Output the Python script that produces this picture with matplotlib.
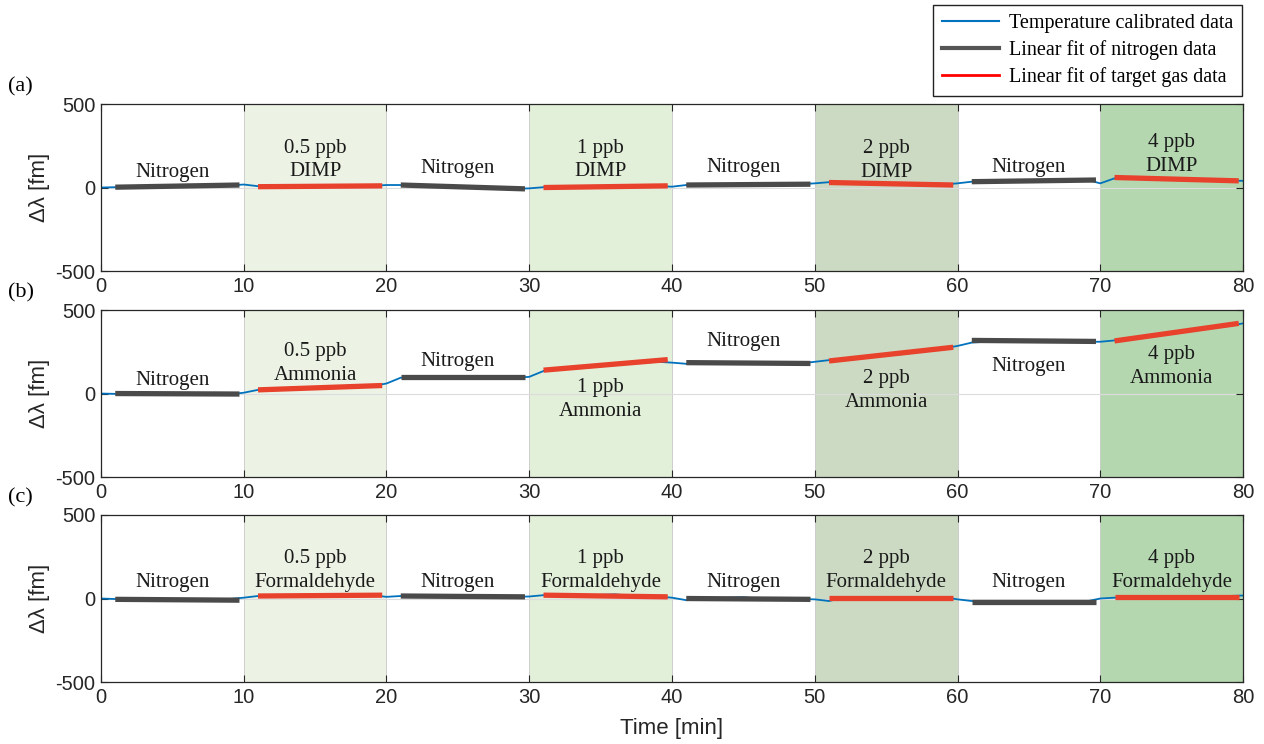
import matplotlib
matplotlib.use('Agg')
import matplotlib.pyplot as plt
import numpy as np

# Data
time_min = list(range(0, 81))

blue_a = [0, 2, 3, 5, 4, 7, 6, 10, 9, 12, 18, 8, 6, 7, 5, 8, 7, 9, 8, 10,
          15, 15, 10, 8, 5, 4, 0, -3, -5, -8, -5, 2, 0, 3, 4, 5, 6, 7, 8, 9,
          5, 15, 16, 15, 17, 18, 18, 20, 19, 20, 25, 32, 30, 28, 27, 25, 23, 22, 20, 18,
          25, 35, 36, 37, 38, 40, 41, 42, 44, 48, 25, 55, 58, 56, 52, 50, 48, 46, 44, 42, 40]
blue_b = [0, -2, 0, -3, 2, -5, 0, -3, -6, -5, 5, 22, 25, 28, 30, 33, 36, 38, 42, 45,
          60, 95, 92, 100, 95, 96, 93, 97, 95, 94, 100, 135, 145, 150, 155, 165, 170, 178, 185, 190,
          185, 178, 190, 183, 180, 178, 176, 180, 178, 180, 190, 200, 205, 212, 220, 228, 235, 245, 255, 270,
          285, 305, 310, 315, 322, 315, 312, 310, 312, 310, 310, 318, 330, 345, 350, 360, 372, 385, 395, 405, 420]
blue_c = [0, -3, -5, -6, -5, -7, -6, -8, -5, -3, 5, 15, 18, 20, 22, 20, 18, 20, 22, 20,
          10, 15, 12, 10, 12, 10, 8, 9, 8, 10, 12, 20, 22, 18, 20, 22, 25, 18, 15, 12,
          5, -10, -5, 0, 5, 8, 0, -3, -5, -3, -5, -15, 5, 8, 5, 6, 5, 8, 5, 8,
          -5, -15, -18, -20, -17, -18, -20, -18, -20, -18, 0, 5, 8, 10, 12, 10, 12, 10, 12, 15, 18]

# linear fits: (t_start, t_end, y_start, y_end)
n2_fit_a = [(1, 9.7, 2, 15), (21, 29.7, 15, -8), (41, 49.7, 15, 20), (61, 69.7, 35, 45)]
gas_fit_a = [(11, 19.7, 5, 10), (31, 39.7, 0, 10), (51, 59.7, 30, 15), (71, 79.7, 60, 40)]
n2_fit_b = [(1, 9.7, 0, -3), (21, 29.7, 97, 97), (41, 49.7, 185, 180), (61, 69.7, 318, 312)]
gas_fit_b = [(11, 19.7, 22, 48), (31, 39.7, 140, 203), (51, 59.7, 195, 277), (71, 79.7, 315, 420)]
n2_fit_c = [(1, 9.7, -5, -10), (21, 29.7, 15, 10), (41, 49.7, 0, -5), (61, 69.7, -20, -20)]
gas_fit_c = [(11, 19.7, 15, 20), (31, 39.7, 20, 10), (51, 59.7, 5, 5), (71, 79.7, 10, 10)]

concentrations = ['0.5 ppb', '1 ppb', '2 ppb', '4 ppb']
gases = ['DIMP', 'Ammonia', 'Formaldehyde']

# label heights per panel: nitrogen labels (4), gas labels (4)
n2_label_y = [[87, 111, 117, 117], [78, 194, 311, 163], [93, 93, 93, 93]]
gas_label_y = [[165, 165, 160, 200], [180, -36, 20, 160], [170, 170, 170, 170]]

shade_colors = ['#ecf3e5', '#e2efd9', '#ccd9c3', '#b5d7b0']

# Plotting
serif = 'Liberation Serif'
plt.rcParams['font.family'] = 'Liberation Sans'
plt.rcParams['axes.unicode_minus'] = False
fig = plt.figure(figsize=(12.64, 7.44), dpi=100)
tops = [0.8602, 0.5833, 0.3078]
height = 0.2245
blues = [blue_a, blue_b, blue_c]
n2_fits = [n2_fit_a, n2_fit_b, n2_fit_c]
gas_fits = [gas_fit_a, gas_fit_b, gas_fit_c]
fit_gray = '#4a4a4a'
fit_red = '#e8412c'
blue = '#0072bd'

for i in range(3):
    ax = fig.add_axes([0.0799, tops[i] - height, 0.9035, height])
    for k in range(4):
        x0 = 10 + 20 * k
        ax.axvspan(x0, x0 + 10, facecolor=shade_colors[k], edgecolor='#c8c8c8', lw=0.6, zorder=0)
    ax.axhline(0, color='#dcdcdc', lw=0.8, zorder=1)
    ax.plot(time_min, blues[i], color=blue, lw=1.3, zorder=2)
    for (t0, t1, y0, y1) in n2_fits[i]:
        ax.plot([t0, t1], [y0, y1], color=fit_gray, lw=3.8, solid_capstyle='butt', zorder=3)
    for (t0, t1, y0, y1) in gas_fits[i]:
        ax.plot([t0, t1], [y0, y1], color=fit_red, lw=3.8, solid_capstyle='butt', zorder=3)
    for k in range(4):
        ax.text(5 + 20 * k, n2_label_y[i][k], 'Nitrogen', family=serif, fontsize=15,
                ha='center', va='center', color='#1a1a1a', zorder=4)
        ax.text(15 + 20 * k, gas_label_y[i][k], concentrations[k] + '\n' + gases[i],
                family=serif, fontsize=15, ha='center', va='center', linespacing=1.35,
                color='#1a1a1a', zorder=4)
    ax.set_xlim(0, 80)
    ax.set_ylim(-500, 500)
    ax.set_xticks(range(0, 81, 10))
    ax.set_yticks([-500, 0, 500])
    ax.tick_params(direction='in', top=True, right=True, length=5, labelsize=14.5,
                   colors='#262626', pad=4)
    for s in ax.spines.values():
        s.set_color('#262626')
        s.set_linewidth(0.9)
    ax.set_ylabel('Δλ [fm]', fontsize=16, color='#262626', labelpad=4)
    if i == 2:
        ax.set_xlabel('Time [min]', fontsize=16, color='#262626', labelpad=8)
    fig.text(0.006, tops[i] + 0.01, '(' + 'abc'[i] + ')', family=serif, fontsize=16,
             ha='left', va='bottom')

handles = [plt.Line2D([], [], color=blue, lw=1.5),
           plt.Line2D([], [], color='#555555', lw=3),
           plt.Line2D([], [], color='red', lw=2)]
labels = ['Temperature calibrated data', 'Linear fit of nitrogen data', 'Linear fit of target gas data']
leg = fig.legend(handles, labels, loc='upper right', bbox_to_anchor=(0.9826, 0.9933),
                 prop={'family': serif, 'size': 14.5}, fancybox=False, edgecolor='#222222',
                 framealpha=1, handlelength=2.8, handletextpad=0.5, borderpad=0.45,
                 labelspacing=0.35, borderaxespad=0)
leg.get_frame().set_linewidth(1.0)

plt.savefig('out.png', dpi=100)
